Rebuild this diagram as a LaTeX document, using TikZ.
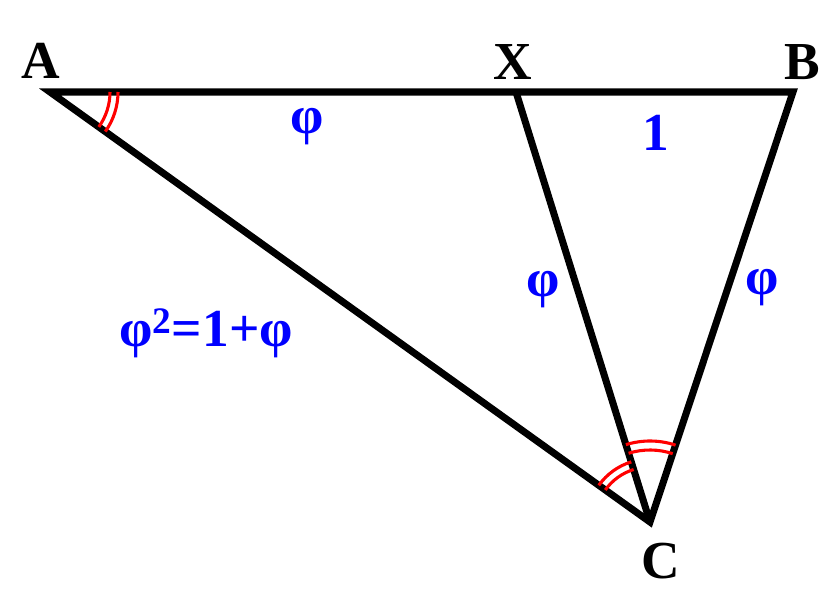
\documentclass[tikz,border=0pt]{standalone}
\usepackage{fontspec}
\setmainfont{Liberation Serif}

\begin{document}
\begin{tikzpicture}[line width=5pt,
    vertex/.style={font=\fontsize{38}{40}\selectfont\bfseries, text=black},
    side/.style={font=\fontsize{38}{40}\selectfont\bfseries, text=blue},
    angmark/.style={red, line width=2.2pt}]
    \useasboundingbox[fill=white] (0,0) rectangle (21,15.2);
        %corners of the triangle
    \coordinate (A) at (1.25,12.9);
    \coordinate (X) at (12.9,12.9);
    \coordinate (B) at (19.825,12.9);
    \coordinate (C) at (16.25,2.15);
        %draw triangle and the cut from C to X
    \draw (A) -- (B) -- (C) -- cycle;
    \draw (X) -- (C);
        %draw double angle marks
    \draw[angmark] (A) ++(0:1.5) arc (0:-35.6:1.5);
    \draw[angmark] (A) ++(0:1.7) arc (0:-35.6:1.7);
    \draw[angmark] (C) ++(107.3:1.375) arc (107.3:144.4:1.375);
    \draw[angmark] (C) ++(107.3:1.575) arc (107.3:144.4:1.575);
    \draw[angmark] (C) ++(71.6:1.8) arc (71.6:107.3:1.8);
    \draw[angmark] (C) ++(71.6:2.025) arc (71.6:107.3:2.025);
        %draw corner names
    \node[vertex] (labA) at (1.025,13.675) {A};
    \node[vertex] (labX) at (12.825,13.65) {X};
    \node[vertex] (labB) at (20.05,13.65) {B};
    \node[vertex] (labC) at (16.525,1.175) {C};
        %draw side lengths
    \node[side] (sideAX) at (7.675,12.025) {φ};
    \node[side] (sideXB) at (16.4,11.875) {1};
    \node[side] (sideXC) at (13.575,7.95) {φ};
    \node[side] (sideBC) at (19.05,8.0) {φ};
    \node[side] (sideAC) at (5.15,6.875) {φ\textsuperscript{2}=1+φ};
\end{tikzpicture}
\end{document}
